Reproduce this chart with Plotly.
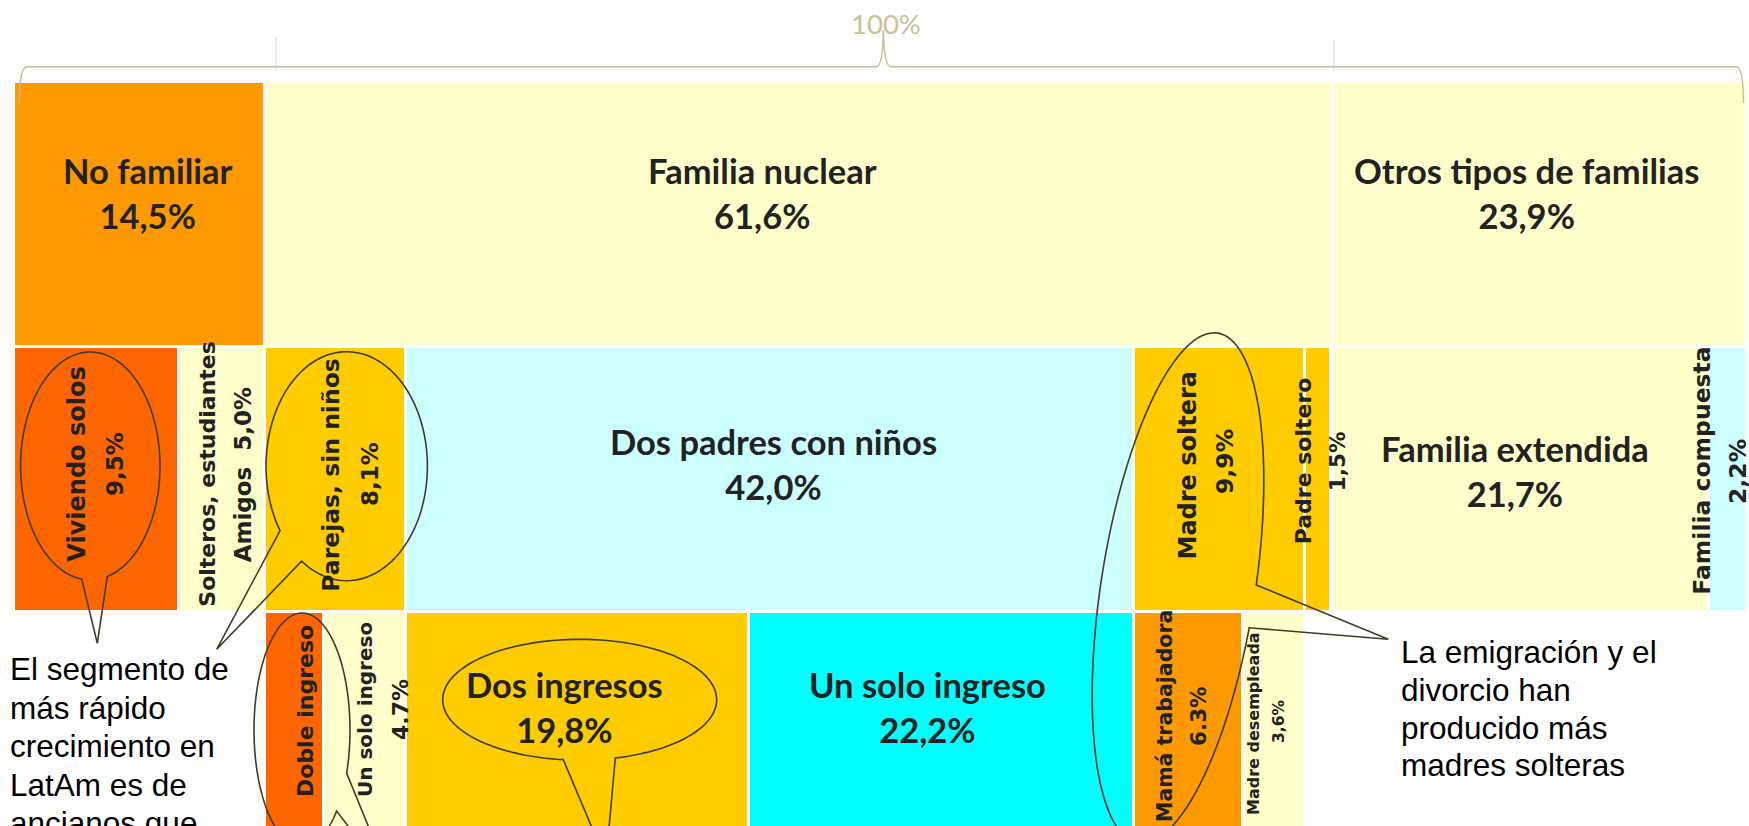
import numpy as np
import plotly.graph_objects as go

# ---------------- data ----------------
level1_labels = ["No familiar", "Familia nuclear", "Otros tipos de familias"]
level1_values = [14.5, 61.6, 23.9]
level1_text = ["14,5%", "61,6%", "23,9%"]

level2_labels = ["Viviendo solos", "Solteros, estudiantes", "Parejas, sin niños",
                 "Dos padres con niños", "Madre soltera", "Padre soltero",
                 "Familia extendida", "Familia compuesta"]
level2_parent = ["No familiar", "No familiar", "Familia nuclear", "Familia nuclear",
                 "Familia nuclear", "Familia nuclear", "Otros tipos de familias",
                 "Otros tipos de familias"]
level2_values = [9.5, 5.0, 8.1, 42.0, 9.9, 1.5, 21.7, 2.2]
level2_text = ["9,5%", "Amigos  5,0%", "8,1%", "42,0%", "9,9%", "1,5%", "21,7%", "2,2%"]

level3_labels = ["Doble ingreso", "Un solo ingreso", "Dos ingresos", "Un solo ingreso",
                 "Mamá trabajadora", "Madre desempleada"]
level3_parent = ["Parejas, sin niños", "Parejas, sin niños", "Dos padres con niños",
                 "Dos padres con niños", "Madre soltera", "Madre soltera"]
level3_values = [3.4, 4.7, 19.8, 22.2, 6.3, 3.6]
level3_text = ["", "4.7%", "19,8%", "22,2%", "6.3%", "3,6%"]

total_label = "100%"

note_left = ["El segmento de", "más rápido", "crecimiento en", "LatAm es de", "ancianos que"]
note_right = ["La emigración y el", "divorcio han", "producido más", "madres solteras"]

# ---------------- styles ----------------
level1_colors = ["#FF9900", "#FFFFCC", "#FFFFCC"]
level2_colors = ["#FF6600", "#FFFFCC", "#FFCC00", "#CCFFFF", "#FFCC00", "#FFCC00",
                 "#FFFFCC", "#CCFFFF"]
level3_colors = ["#FF6600", "#FFFFCC", "#FFCC00", "#00FFFF", "#FF9900", "#FFFFCC"]

W, H = 1749, 826
X0, X100 = 14.0, 1747.0
K = (X100 - X0) / 100.0
Y0, PITCH = 81.5, 265.0


def xd(px):
    return (px - X0) / K


def yd(py):
    return (py - Y0) / PITCH


# ---------------- layout of cells from data ----------------
def starts_in(values, parents, parent_labels, parent_starts):
    out = []
    cursor = {}
    for v, p in zip(values, parents):
        i = parent_labels.index(p)
        s = cursor.get(p, parent_starts[i])
        out.append(s)
        cursor[p] = s + v
    return np.array(out)


l1_starts = np.concatenate([[0.0], np.cumsum(level1_values)[:-1]])
l2_starts = starts_in(level2_values, level2_parent, level1_labels, l1_starts)
l3_starts = starts_in(level3_values, level3_parent, level2_labels, l2_starts)

fig = go.Figure()
for lvl, (starts, vals, cols, labs) in enumerate([
        (l1_starts, level1_values, level1_colors, level1_labels),
        (l2_starts, level2_values, level2_colors, level2_labels),
        (l3_starts, level3_values, level3_colors, level3_labels)]):
    vals = np.array(vals)
    fig.add_trace(go.Bar(
        x=starts + vals / 2, y=[1] * len(vals), base=[lvl] * len(vals), width=vals,
        marker=dict(color=cols, line=dict(color="white", width=3)),
        text=labs, hoverinfo="text", textposition="none", showlegend=False))

TXT = "#222222"
annotations = []

# horizontal bold labels
BOLD = "Lato, 'Open Sans', sans-serif"
hlabels = [
    (level1_labels[0], level1_text[0], 148, 193),
    (level1_labels[1], level1_text[1], 762, 193),
    (level1_labels[2], level1_text[2], 1526, 193),
    (level2_labels[3], level2_text[3], 773, 464),
    (level2_labels[6], level2_text[6], 1514.5, 471),
    (level3_labels[2], level3_text[2], 564, 707),
    (level3_labels[3], level3_text[3], 927, 707),
]
for name, val, px, py in hlabels:
    annotations.append(dict(x=xd(px), y=yd(py), xref="x", yref="y", showarrow=False,
                            text=f"<b>{name}<br>{val}</b>",
                            font=dict(family=BOLD, size=34.5, color=TXT),
                            xanchor="center", yanchor="middle"))

# rotated labels (one annotation per line)
ROT = "'DejaVu Sans', Verdana, sans-serif"
rot_lines = [
    (level2_labels[0], 76.7, 464, 24), (level2_text[0], 115, 464, 23),
    (level2_labels[1], 206.7, 474, 22), (level2_text[1], 243.3, 475, 23),
    (level2_labels[2], 330.8, 475, 23.5), (level2_text[2], 370, 474, 23),
    (level2_labels[4], 1187.5, 465, 24), (level2_text[4], 1225, 462, 23.5),
    (level2_labels[5], 1303.3, 461, 22), (level2_text[5], 1337.5, 461.7, 21.5),
    (level2_labels[7], 1701.7, 471, 23.5), (level2_text[7], 1738, 472, 23.5),
    (level3_labels[0], 305, 711, 22),
    (level3_labels[1], 365, 710, 20), (level3_text[1], 400, 710, 22),
    (level3_labels[4], 1165, 716, 20.5), (level3_text[4], 1198, 716, 21.5),
    (level3_labels[5], 1253, 724, 16), (level3_text[5], 1279, 722, 15.5),
]
for txt, px, py, sz in rot_lines:
    annotations.append(dict(x=xd(px), y=yd(py), xref="x", yref="y", showarrow=False,
                            text=f"<b>{txt}</b>", textangle=-90,
                            font=dict(family=ROT, size=sz, color=TXT),
                            xanchor="center", yanchor="middle"))

# callout notes
NOTE = "'Liberation Sans', Arial, sans-serif"
for i, line in enumerate(note_left):
    annotations.append(dict(x=xd(8), y=yd(669 + i * 38.6), xref="x", yref="y",
                            showarrow=False, text=line, xanchor="left", yanchor="middle",
                            font=dict(family=NOTE, size=31.5, color="#000000")))
for i, line in enumerate(note_right):
    annotations.append(dict(x=xd(1399), y=yd(652 + i * 37.8), xref="x", yref="y",
                            showarrow=False, text=line, xanchor="left", yanchor="middle",
                            font=dict(family=NOTE, size=31.5, color="#000000")))

# total label
annotations.append(dict(x=xd(886), y=yd(23.5), xref="x", yref="y", showarrow=False,
                        text=total_label, xanchor="center", yanchor="middle",
                        font=dict(family="Lato, sans-serif", size=27.5, color="#C9BF99")))

# ---------------- decorative shapes (pixel geometry) ----------------
def P(px, py):
    return f"{xd(px):.4f},{yd(py):.4f}"


def bubble(cx, cy, rx, ry, rot, a1, a2, tip, n=120):
    ph = np.radians(rot)
    e1 = np.array([np.cos(ph), np.sin(ph)])
    e2 = np.array([-np.sin(ph), np.cos(ph)])
    c = np.array([cx, cy])

    def t_of(p):
        r = np.array(p) - c
        return np.arctan2(r @ e2 / ry, r @ e1 / rx)

    ta, tb = t_of(a1), t_of(a2)
    if (tb - ta) % (2 * np.pi) > np.pi:
        ta, tb = tb, ta
    t0 = tb
    t1 = ta + 2 * np.pi
    while t1 - t0 > 2 * np.pi:
        t1 -= 2 * np.pi
    while t1 < t0:
        t1 += 2 * np.pi
    ts = np.linspace(t0, t1, n)
    pts = [c + rx * np.cos(t) * e1 + ry * np.sin(t) * e2 for t in ts]
    path = "M " + " L ".join(P(p[0], p[1]) for p in pts)
    path += " L " + P(*tip) + " Z"
    return dict(type="path", path=path, xref="x", yref="y",
                line=dict(color="#403C2C", width=1.6), fillcolor="rgba(0,0,0,0)",
                layer="above")


shapes = [
    bubble(90.3, 466, 69.7, 114, 0, (81.7, 579), (107.3, 576.7), (97.3, 643.3)),
    bubble(346.7, 466.2, 80.7, 114.5, 0, (280, 530.7), (301.7, 561), (216.7, 649.3)),
    bubble(302, 730, 48, 117, 0, (346.6, 773), (336.6, 811), (391, 882)),
    bubble(579.7, 699.7, 137, 60.4, 0, (563.3, 759.7), (615.3, 758), (606, 861)),
    bubble(1178, 588, 77, 258, 8.85, (1253.3, 585), (1253.3, 630), (1388.3, 639.3)),
]

brace = ("M " + P(19.3, 103) + " Q " + P(19.5, 66.7) + " " + P(27, 66.7) +
         " L " + P(876, 66.7) + " Q " + P(883, 66.7) + " " + P(883.3, 30) +
         " Q " + P(884, 66.7) + " " + P(891, 66.7) +
         " L " + P(1736, 66.7) + " Q " + P(1743.5, 66.7) + " " + P(1743.5, 103))
shapes.append(dict(type="path", path=brace, xref="x", yref="y",
                   line=dict(color="#C8BC92", width=1.5), layer="above"))
for px, top in [(276, 37), (1334, 40)]:
    shapes.append(dict(type="line", x0=xd(px), x1=xd(px), y0=yd(top), y1=yd(72),
                       xref="x", yref="y", line=dict(color="#DADADA", width=1),
                       layer="below"))

fig.update_layout(
    width=W, height=H, margin=dict(l=0, r=0, t=0, b=0),
    paper_bgcolor="white", plot_bgcolor="white", barmode="overlay", bargap=0,
    showlegend=False,
    xaxis=dict(range=[xd(0), xd(W)], visible=False, fixedrange=True),
    yaxis=dict(range=[yd(H), yd(0)], visible=False, fixedrange=True),
    annotations=annotations, shapes=shapes,
)

fig.write_html("out.html", config={"displayModeBar": False},
               post_script="document.body.style.margin='0';")
